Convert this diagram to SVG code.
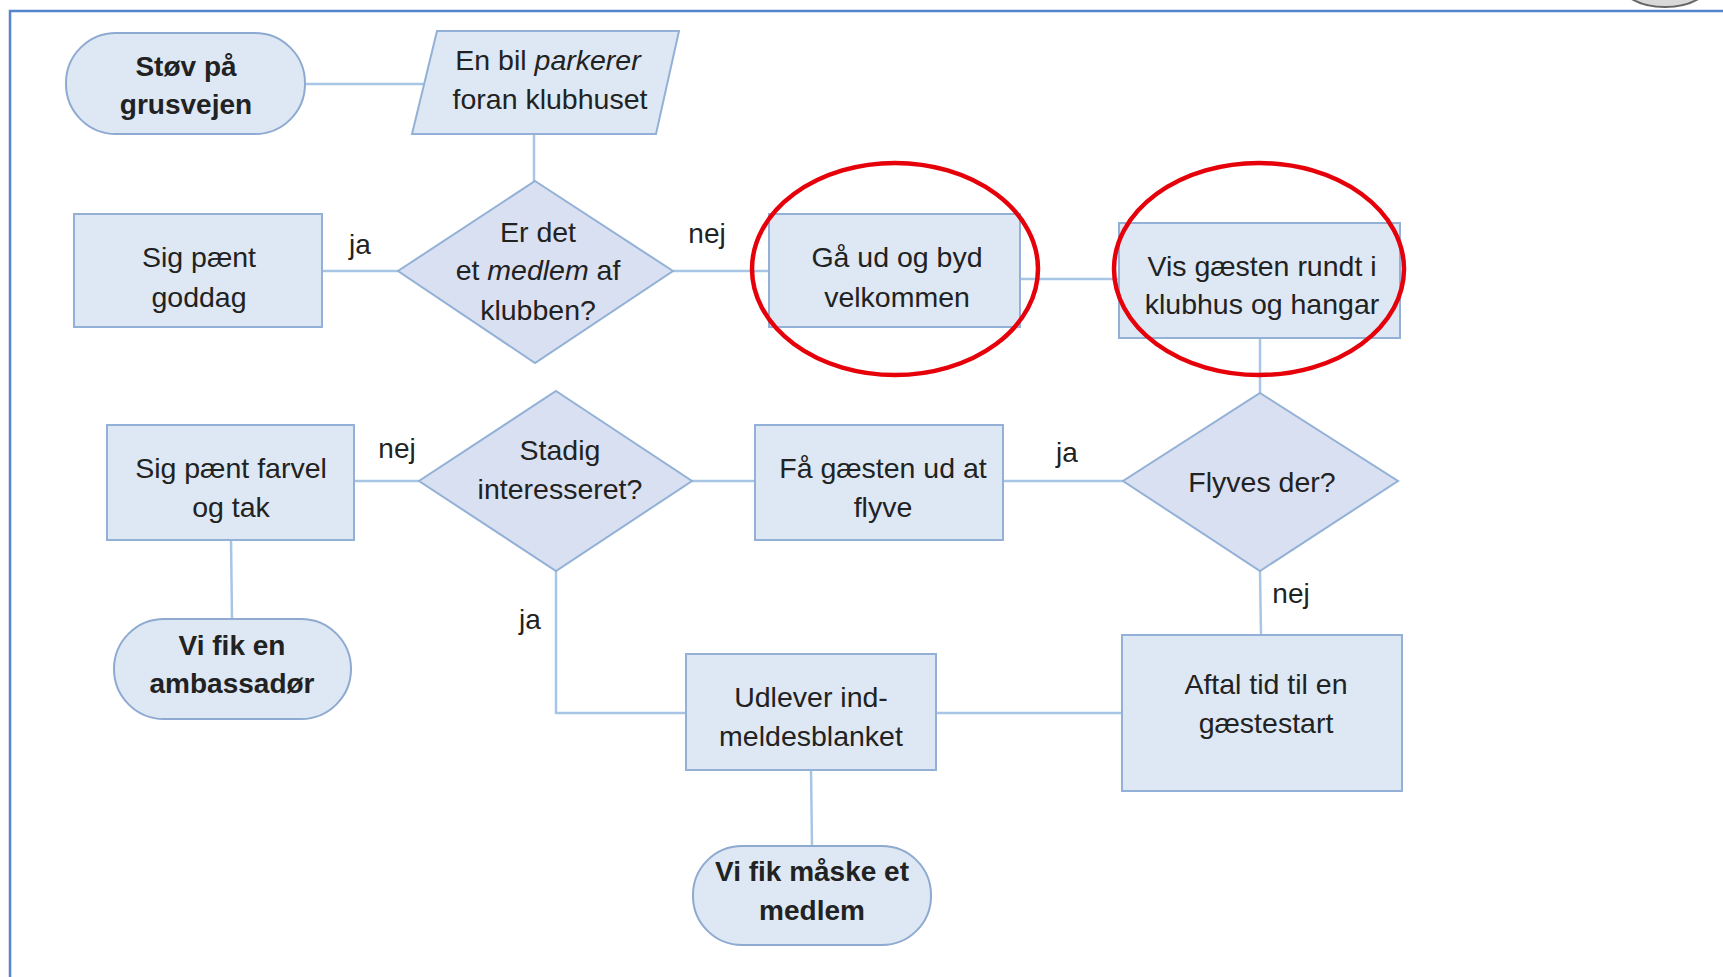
<svg xmlns="http://www.w3.org/2000/svg" width="1723" height="977" viewBox="0 0 1723 977">
<style>
.box{fill:#dde8f4;stroke:#93b1d6;stroke-width:2}
.dia{fill:#d8e0f1;stroke:#93b1d6;stroke-width:2}
.term{fill:#dde8f4;stroke:#8eaad0;stroke-width:2}
.con{fill:none;stroke:#a9c5e6;stroke-width:2.5}
.t{font-family:"Liberation Sans",Arial,sans-serif;font-size:28.5px;fill:#222222;text-anchor:middle;dominant-baseline:central}
.b{font-weight:bold;font-size:28px}
.lbl{font-family:"Liberation Sans",Arial,sans-serif;font-size:28px;fill:#222222;text-anchor:middle;dominant-baseline:central}
.red{fill:none;stroke:#e6000a;stroke-width:4.5}
</style>
<rect x="0" y="0" width="1723" height="977" fill="#ffffff"/>
<g id="frame">
<ellipse cx="1665" cy="-20" rx="47" ry="27" fill="#d9d9d9" stroke="#666" stroke-width="2"/>
<path d="M10 977 V11 H1723" fill="none" stroke="#5585cc" stroke-width="2.5"/>
</g>
<g id="connectors">
<path class="con" d="M305 84 H424"/>
<path class="con" d="M534 134 V181"/>
<path class="con" d="M322 271 H398"/>
<path class="con" d="M673 271 H769"/>
<path class="con" d="M1020 279 H1119"/>
<path class="con" d="M1260 338 V393"/>
<path class="con" d="M1123 481 H1003"/>
<path class="con" d="M755 481 H692"/>
<path class="con" d="M419 481 H354"/>
<path class="con" d="M231 540 L232 619"/>
<path class="con" d="M556 571 V713 H686"/>
<path class="con" d="M1260 571 L1261 635"/>
<path class="con" d="M1122 713 H936"/>
<path class="con" d="M811 770 L812 846"/>
<text class="lbl" x="360" y="244">ja</text>
<text class="lbl" x="707" y="233">nej</text>
<text class="lbl" x="1067" y="452">ja</text>
<text class="lbl" x="397" y="448">nej</text>
<text class="lbl" x="530" y="619">ja</text>
<text class="lbl" x="1291" y="593">nej</text>
</g>
<g id="n-stov">
<rect class="term" x="66" y="33" width="239" height="101" rx="50" ry="50"/>
<text class="t b" x="186" y="66">Støv på</text>
<text class="t b" x="186" y="104">grusvejen</text>
</g>
<g id="n-bil">
<polygon class="box" points="437,31 679,31 656,134 412,134"/>
<text class="t" x="548" y="60">En bil <tspan font-style="italic">parkerer</tspan></text>
<text class="t" x="550" y="99">foran klubhuset</text>
</g>
<g id="n-medlem">
<polygon class="dia" points="535,181 673,271 535,363 398,271"/>
<text class="t" x="538" y="232">Er det</text>
<text class="t" x="538" y="270">et <tspan font-style="italic">medlem</tspan> af</text>
<text class="t" x="538" y="310">klubben?</text>
</g>
<g id="n-goddag">
<rect class="box" x="74" y="214" width="248" height="113"/>
<text class="t" x="199" y="257">Sig pænt</text>
<text class="t" x="199" y="297">goddag</text>
</g>
<g id="n-gaaud">
<rect class="box" x="769" y="214" width="251" height="113"/>
<text class="t" x="897" y="257">Gå ud og byd</text>
<text class="t" x="897" y="297">velkommen</text>
<ellipse class="red" cx="895" cy="269" rx="143" ry="106"/>
</g>
<g id="n-vis">
<rect class="box" x="1119" y="223" width="281" height="115"/>
<text class="t" x="1262" y="266">Vis gæsten rundt i</text>
<text class="t" x="1262" y="304">klubhus og hangar</text>
<ellipse class="red" cx="1259" cy="269" rx="145" ry="106"/>
</g>
<g id="n-flyves">
<polygon class="dia" points="1260,393 1398,481 1260,571 1123,481"/>
<text class="t" x="1262" y="482">Flyves der?</text>
</g>
<g id="n-faa">
<rect class="box" x="755" y="425" width="248" height="115"/>
<text class="t" x="883" y="468">Få gæsten ud at</text>
<text class="t" x="883" y="507">flyve</text>
</g>
<g id="n-stadig">
<polygon class="dia" points="556,391 692,481 556,571 419,481"/>
<text class="t" x="560" y="450">Stadig</text>
<text class="t" x="560" y="489">interesseret?</text>
</g>
<g id="n-farvel">
<rect class="box" x="107" y="425" width="247" height="115"/>
<text class="t" x="231" y="468">Sig pænt farvel</text>
<text class="t" x="231" y="507">og tak</text>
</g>
<g id="n-ambassador">
<rect class="term" x="114" y="619" width="237" height="100" rx="50" ry="50"/>
<text class="t b" x="232" y="645">Vi fik en</text>
<text class="t b" x="232" y="683">ambassadør</text>
</g>
<g id="n-udlever">
<rect class="box" x="686" y="654" width="250" height="116"/>
<text class="t" x="811" y="697">Udlever ind-</text>
<text class="t" x="811" y="736">meldesblanket</text>
</g>
<g id="n-aftal">
<rect class="box" x="1122" y="635" width="280" height="156"/>
<text class="t" x="1266" y="684">Aftal tid til en</text>
<text class="t" x="1266" y="723">gæstestart</text>
</g>
<g id="n-maaske">
<rect class="term" x="693" y="846" width="238" height="99" rx="49" ry="49"/>
<text class="t b" x="812" y="871">Vi fik måske et</text>
<text class="t b" x="812" y="910">medlem</text>
</g>
</svg>
